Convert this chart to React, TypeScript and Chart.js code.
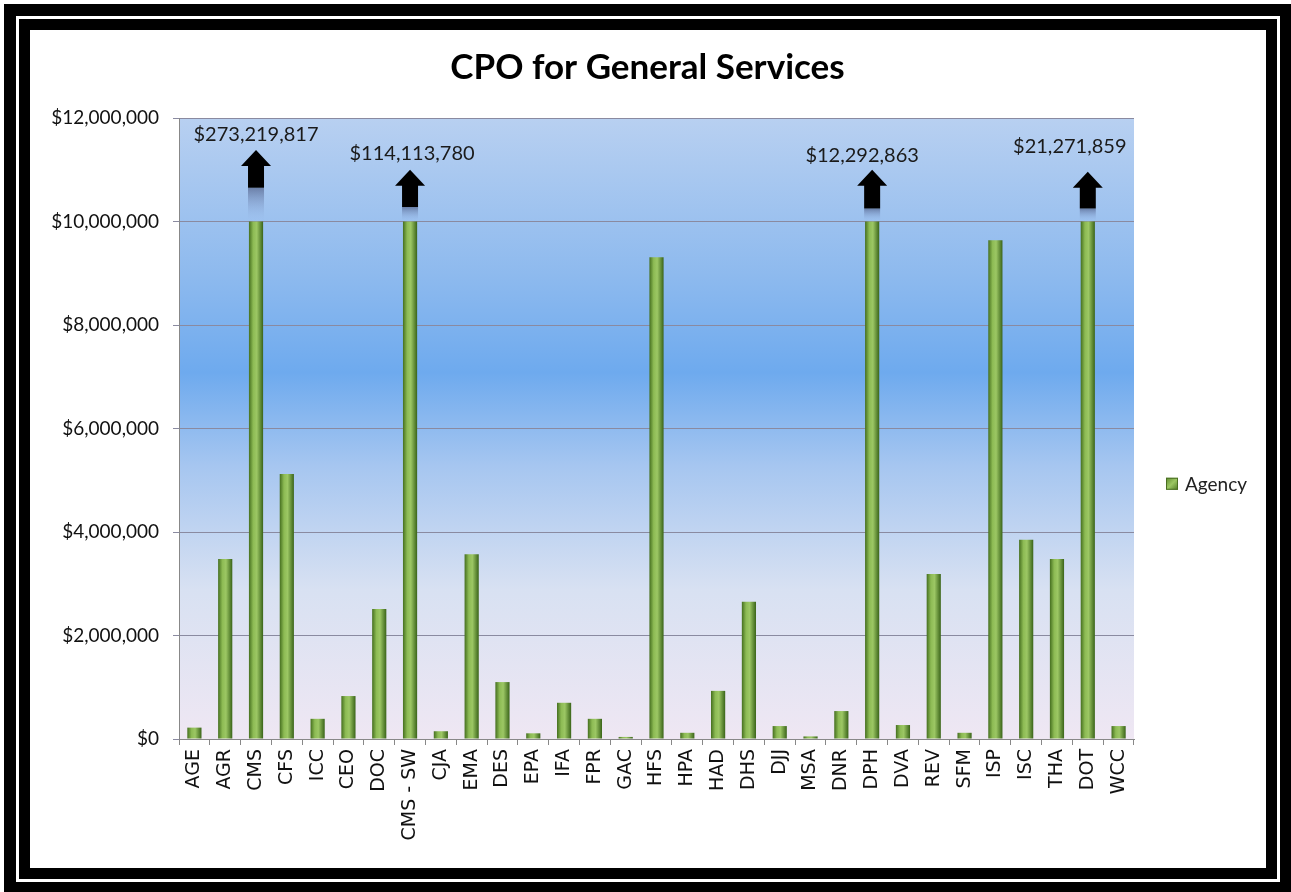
import React, { useEffect, useRef } from "react";
import { Chart, registerables } from "chart.js";

Chart.register(...registerables);

const categories = [
  "AGE", "AGR", "CMS", "CFS", "ICC", "CEO", "DOC", "CMS - SW", "CJA", "EMA",
  "DES", "EPA", "IFA", "FPR", "GAC", "HFS", "HPA", "HAD", "DHS", "DJJ",
  "MSA", "DNR", "DPH", "DVA", "REV", "SFM", "ISP", "ISC", "THA", "DOT", "WCC",
];

// Bar heights as drawn (off-scale bars are drawn to $10,000,000)
const agencyValues = [
  220000, 3480000, 10000000, 5120000, 390000, 830000, 2510000, 10000000, 150000, 3570000,
  1100000, 110000, 700000, 390000, 40000, 9310000, 120000, 930000, 2650000, 250000,
  50000, 540000, 10000000, 270000, 3190000, 120000, 9640000, 3850000, 3480000, 10000000, 250000,
];

// Call-outs for off-scale bars
const calloutCategories = ["CMS", "CMS - SW", "DPH", "DOT"];
const calloutLabels = ["$273,219,817", "$114,113,780", "$12,292,863", "$21,271,859"];
const calloutArrowTip = [11380000, 11000000, 11000000, 10960000];
const calloutArrowBase = [10650000, 10280000, 10250000, 10250000];
const calloutTextY = [11680000, 11310000, 11280000, 11440000];
const calloutTextShift = [0, 2, -10, -18];

const yTicks = [0, 2000000, 4000000, 6000000, 8000000, 10000000, 12000000];

const seriesName = "Agency";

const FONT = "Lato, 'Open Sans', sans-serif";
const XFONT = "'DejaVu Sans', Verdana, sans-serif";
const BAR_PCT = 0.46;

function fmt(v: number) {
  return "$" + v.toLocaleString("en-US");
}

const bgPlugin = {
  id: "plotBg",
  beforeDraw(chart: any) {
    const { ctx, chartArea } = chart;
    if (!chartArea) return;
    const { left, top, right, bottom } = chartArea;
    const g = ctx.createLinearGradient(0, top, 0, bottom);
    g.addColorStop(0, "#b8d0f1");
    g.addColorStop(0.25, "#8ebaee");
    g.addColorStop(0.41, "#6eaaee");
    g.addColorStop(0.56, "#a6c6f0");
    g.addColorStop(0.76, "#d8e1f2");
    g.addColorStop(1, "#efe7f3");
    ctx.save();
    ctx.fillStyle = g;
    ctx.fillRect(left, top, right - left, bottom - top);
    ctx.restore();
  },
};

const legendPlugin = {
  id: "sideLegend",
  afterDraw(chart: any) {
    const { ctx, chartArea } = chart;
    if (!chartArea) return;
    const x = chartArea.right + 32;
    const y = chartArea.top + (chartArea.bottom - chartArea.top) * 0.589;
    ctx.save();
    const g = ctx.createLinearGradient(x, y - 6, x + 12, y + 6);
    g.addColorStop(0, "#5e8a2e");
    g.addColorStop(0.5, "#9cc764");
    g.addColorStop(1, "#4f7a25");
    ctx.fillStyle = g;
    ctx.fillRect(x, y - 6, 12, 12);
    ctx.strokeStyle = "#4a6e22";
    ctx.lineWidth = 1;
    ctx.strokeRect(x + 0.5, y - 5.5, 11, 11);
    ctx.fillStyle = "#222";
    ctx.font = "19px " + FONT;
    ctx.textAlign = "left";
    ctx.textBaseline = "middle";
    ctx.fillText(seriesName, x + 19, y + 1);
    ctx.restore();
  },
};

const calloutPlugin = {
  id: "callouts",
  afterDatasetsDraw(chart: any) {
    const { ctx, scales } = chart;
    const xs = scales.x;
    const ys = scales.y;
    ctx.save();
    calloutCategories.forEach((cat, i) => {
      const idx = categories.indexOf(cat);
      const x = xs.getPixelForValue(idx);
      const tip = ys.getPixelForValue(calloutArrowTip[i]);
      const base = ys.getPixelForValue(calloutArrowBase[i]);
      const barTop = ys.getPixelForValue(10000000);
      const fg = ctx.createLinearGradient(0, base, 0, barTop);
      fg.addColorStop(0, "rgba(60,70,110,0.55)");
      fg.addColorStop(1, "rgba(150,180,230,0)");
      ctx.fillStyle = fg;
      ctx.fillRect(x - 8, base, 16, barTop - base);
      const headH = 16;
      ctx.fillStyle = "#000";
      ctx.beginPath();
      ctx.moveTo(x, tip);
      ctx.lineTo(x + 15, tip + headH);
      ctx.lineTo(x + 8, tip + headH);
      ctx.lineTo(x + 8, base);
      ctx.lineTo(x - 8, base);
      ctx.lineTo(x - 8, tip + headH);
      ctx.lineTo(x - 15, tip + headH);
      ctx.closePath();
      ctx.fill();
      ctx.fillStyle = "#1a1a1a";
      ctx.font = "20px " + FONT;
      ctx.textAlign = "center";
      ctx.textBaseline = "middle";
      ctx.fillText(calloutLabels[i], x + calloutTextShift[i], ys.getPixelForValue(calloutTextY[i]));
    });
    ctx.restore();
  },
};

export default function App() {
  const ref = useRef<HTMLCanvasElement | null>(null);

  useEffect(() => {
    const canvas = ref.current;
    if (!canvas) return;
    const ctx = canvas.getContext("2d")!;
    const barFill = (c: any) => {
      const chart = c.chart;
      const xs = chart.scales && chart.scales.x;
      if (!chart.chartArea || !xs || c.dataIndex === undefined) return "#7ba343";
      const x = xs.getPixelForValue(c.dataIndex);
      const w = (xs.width / categories.length) * BAR_PCT;
      if (!isFinite(x) || !isFinite(w) || w <= 0) return "#7ba343";
      const g = chart.ctx.createLinearGradient(x - w / 2, 0, x + w / 2, 0);
      g.addColorStop(0, "#456f1f");
      g.addColorStop(0.3, "#8dbb54");
      g.addColorStop(0.55, "#9cc764");
      g.addColorStop(1, "#3a6419");
      return g;
    };
    const chart = new Chart(ctx, {
      type: "bar",
      data: {
        labels: categories,
        datasets: [
          {
            label: seriesName,
            data: agencyValues,
            backgroundColor: barFill as any,
            borderWidth: 0,
            barPercentage: BAR_PCT,
            categoryPercentage: 1,
            yAxisID: "y",
          },
        ],
      },
      options: {
        animation: false,
        responsive: false,
        maintainAspectRatio: false,
        layout: { padding: { left: 0, right: 0, top: 0, bottom: 0 } },
        plugins: {
          tooltip: { enabled: false },
          title: {
            display: true,
            text: "CPO for General Services",
            color: "#000",
            font: { family: FONT, size: 35, weight: "bold" },
            padding: { top: 17, bottom: 29 },
          },
          legend: { display: false },
        },
        scales: {
          x: {
            grid: {
              display: true,
              drawOnChartArea: false,
              drawTicks: true,
              tickLength: 6,
              color: "#888",
              offset: true,
            },
            border: { display: true, color: "#888" },
            ticks: {
              autoSkip: false,
              maxRotation: 90,
              minRotation: 90,
              color: "#111",
              font: { family: XFONT, size: 19 },
              padding: 4,
            },
            afterFit: (s: any) => {
              s.height = 129;
            },
          },
          y: {
            min: 0,
            max: 12000000,
            afterBuildTicks: (s: any) => {
              s.ticks = yTicks.map((v) => ({ value: v }));
            },
            grid: {
              color: "#8a8aa0",
              lineWidth: 1,
              tickLength: 6,
              drawTicks: true,
            },
            border: { display: true, color: "#888" },
            ticks: {
              color: "#111",
              font: { family: FONT, size: 19 },
              padding: 14,
              callback: (v: any) => fmt(Number(v)),
            },
            afterFit: (s: any) => {
              s.width = 149;
            },
          },
          // empty right-hand band that holds the legend
          legendBand: {
            type: "linear",
            position: "right",
            display: true,
            grid: { display: false, drawOnChartArea: false, drawTicks: false },
            border: { display: false },
            ticks: { display: false },
            afterFit: (s: any) => {
              s.width = 131;
            },
          },
        },
      },
      plugins: [bgPlugin, calloutPlugin, legendPlugin],
    });
    return () => chart.destroy();
  }, []);

  return (
    <div
      style={{
        position: "fixed",
        left: 0,
        top: 0,
        width: 1291,
        height: 892,
        background: "#fff",
      }}
    >
      <div style={{ position: "absolute", left: 4, top: 4, right: 0, bottom: 0, background: "#000" }}>
        <div style={{ position: "absolute", left: 12, top: 12, right: 11, bottom: 10, background: "#fff" }}>
          <div style={{ position: "absolute", left: 3, top: 3, right: 3, bottom: 3, background: "#000" }}>
            <div style={{ position: "absolute", left: 11, top: 11, right: 11, bottom: 11, background: "#fff" }}>
              <canvas ref={ref} width={1235} height={838} style={{ display: "block" }} />
            </div>
          </div>
        </div>
      </div>
    </div>
  );
}
